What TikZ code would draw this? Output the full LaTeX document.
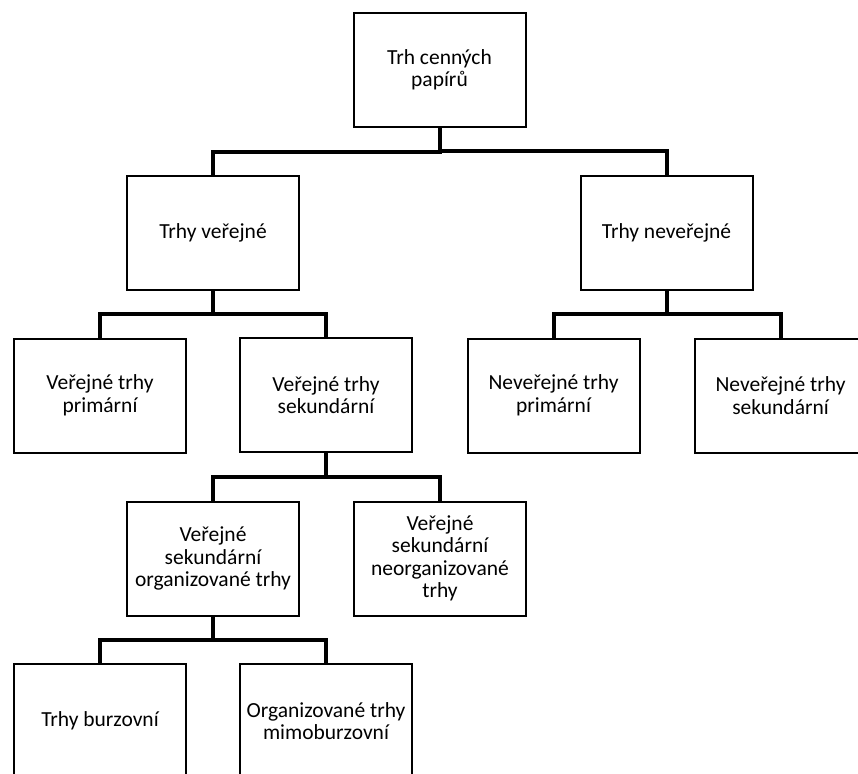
\documentclass[tikz,border=0pt]{standalone}
\usepackage{fontspec}
\setmainfont{Carlito}
\usetikzlibrary{calc}

\tikzset{
  marketbox/.style={draw=black, line width=2pt, fill=white,
    minimum width=172pt, minimum height=114pt, inner sep=2pt,
    align=center, font=\fontsize{21.5}{22.5}\selectfont},
  branch/.style={draw=black, line width=4pt}
}

% elbow connector: down from parent, across, down into child
\newcommand{\treelink}[2]{%
  \draw[branch] (#1.south) -- ($(#1.south)!0.5!(#1.south |- #2.north)$) -| (#2.north);}

\begin{document}
\begin{tikzpicture}[x=1pt,y=-1pt]
  \useasboundingbox (0,0) rectangle (858,773);
  \clip (0,0) rectangle (858,773);

  \path
    (439.5,70)  coordinate (c-root)
    (213,233)   coordinate (c-pub)
    (666.5,232.5) coordinate (c-npub)
    (100,395.5) coordinate (c-vp)
    (326,395)   coordinate (c-vs)
    (553.5,395.5) coordinate (c-np)
    (780.5,395.5) coordinate (c-ns)
    (213,558.5) coordinate (c-org)
    (440,558.5) coordinate (c-neorg)
    (100,721)   coordinate (c-burz)
    (326,721)   coordinate (c-mimo);

  \node[marketbox] (root)  at (c-root)  {Trh cenných\\papírů};
  \node[marketbox] (pub)   at (c-pub)   {Trhy veřejné};
  \node[marketbox] (npub)  at (c-npub)  {Trhy neveřejné};
  \node[marketbox] (vp)    at (c-vp)    {Veřejné trhy\\primární};
  \node[marketbox] (vs)    at (c-vs)    {Veřejné trhy\\sekundární};
  \node[marketbox] (np)    at (c-np)    {Neveřejné trhy\\primární};
  \node[marketbox] (ns)    at (c-ns)    {Neveřejné trhy\\sekundární};
  \node[marketbox] (org)   at (c-org)   {Veřejné\\sekundární\\organizované trhy};
  \node[marketbox] (neorg) at (c-neorg) {Veřejné\\sekundární\\neorganizované\\trhy};
  \node[marketbox] (burz)  at (c-burz)  {Trhy burzovní};
  \node[marketbox] (mimo)  at (c-mimo)  {Organizované trhy\\mimoburzovní};

  \treelink{root}{pub}
  \treelink{root}{npub}
  \treelink{pub}{vp}
  \treelink{pub}{vs}
  \treelink{npub}{np}
  \treelink{npub}{ns}
  \treelink{vs}{org}
  \treelink{vs}{neorg}
  \treelink{org}{burz}
  \treelink{org}{mimo}
\end{tikzpicture}
\end{document}
